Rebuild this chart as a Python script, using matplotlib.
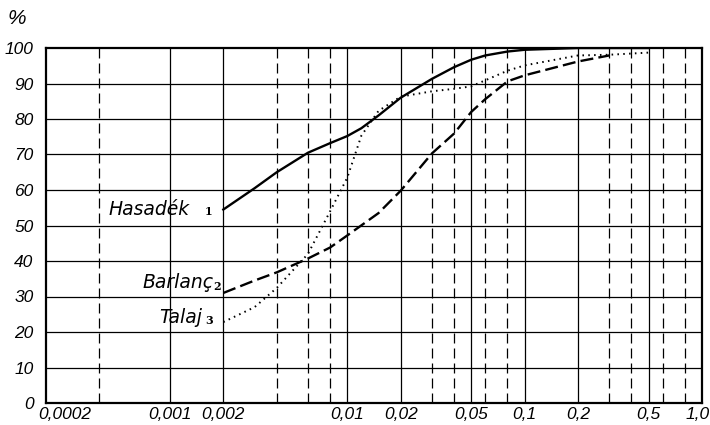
import matplotlib
matplotlib.use("Agg")
import matplotlib.pyplot as plt
import matplotlib.transforms as mtrans
from matplotlib.ticker import NullLocator, NullFormatter

# ---- data ----
x_hasadek = [0.002, 0.003, 0.004, 0.006, 0.008, 0.01, 0.012, 0.015, 0.02, 0.03,
             0.04, 0.05, 0.06, 0.08, 0.1, 0.2, 0.5]
y_hasadek = [54.5, 60.5, 65, 70.5, 73.2, 75.2, 77.4, 81, 86, 91.3,
             94.6, 96.7, 97.9, 99, 99.5, 100, 100]

x_barlanc = [0.002, 0.003, 0.004, 0.006, 0.008, 0.01, 0.015, 0.02, 0.03, 0.04,
             0.05, 0.06, 0.08, 0.1, 0.2, 0.3]
y_barlanc = [31, 34.5, 36.8, 40.7, 43.8, 47.2, 53.5, 59.8, 70.3, 75.9,
             82, 85.6, 90.6, 92.3, 96.2, 97.9]

x_talaj = [0.002, 0.003, 0.004, 0.006, 0.008, 0.01, 0.012, 0.015, 0.02, 0.03,
           0.04, 0.05, 0.06, 0.08, 0.1, 0.2, 0.3, 0.5]
y_talaj = [22.8, 27, 32.4, 42, 54, 63.5, 75.3, 82.3, 86.3, 87.8,
           88.5, 89.2, 90.9, 93.6, 95.1, 97.9, 98.1, 98.7]

series_names = ["Hasadék", "Barlanç", "Talaj"]
series_nums = ["1", "2", "3"]

x_tick_vals = [0.0002, 0.001, 0.002, 0.01, 0.02, 0.05, 0.1, 0.2, 0.5, 1.0]
x_tick_labels = ["0,0002", "0,001", "0,002", "0,01", "0,02", "0,05", "0,1", "0,2", "0,5", "1,0"]
y_tick_vals = [0, 10, 20, 30, 40, 50, 60, 70, 80, 90, 100]

solid_grid_x = [0.001, 0.002, 0.01, 0.02, 0.05, 0.1, 0.2, 0.5]
dashed_grid_x = [0.0004, 0.004, 0.006, 0.008, 0.03, 0.04, 0.06, 0.08,
                 0.3, 0.4, 0.6, 0.8]

# ---- figure ----
fig = plt.figure(figsize=(7.10, 4.25), dpi=100)
ax = fig.add_axes([46/710, 1-403/425, (702-46)/710, (403-48)/425])
ax.set_xscale("log")
ax.set_xlim(0.0002, 1.0)
ax.set_ylim(0, 100)

tick_font = dict(family="Liberation Sans", style="italic", size=12.5)

for xv in solid_grid_x:
    ax.axvline(xv, color="black", lw=0.9, zorder=1)
for xv in dashed_grid_x:
    ax.axvline(xv, color="black", lw=0.9, ls=(0, (8, 4)), zorder=1)
for yv in y_tick_vals[1:-1]:
    ax.axhline(yv, color="black", lw=0.9, zorder=1)

ax.plot(x_hasadek, y_hasadek, color="black", lw=1.7, ls="-", zorder=3)
ax.plot(x_barlanc, y_barlanc, color="black", lw=1.7, ls=(0, (5.5, 2.2)), zorder=3)
ax.plot(x_talaj, y_talaj, color="black", lw=1.4, ls=(0, (0.8, 2.2)), zorder=3)

for s in ax.spines.values():
    s.set_linewidth(1.6)
    s.set_color("black")

ax.xaxis.set_minor_locator(NullLocator())
ax.xaxis.set_minor_formatter(NullFormatter())
ax.set_xticks(x_tick_vals)
ax.set_xticklabels(x_tick_labels, fontdict=tick_font)
ax.set_yticks(y_tick_vals)
ax.set_yticklabels([str(v) for v in y_tick_vals], fontdict=tick_font)
ax.tick_params(axis="both", length=0)
ax.tick_params(axis="x", pad=3)
ax.tick_params(axis="y", pad=9)
lbls = ax.get_xticklabels()
lbls[0].set_horizontalalignment("left")
lbls[0].set_transform(lbls[0].get_transform() + mtrans.ScaledTranslation(-8/100, 0, fig.dpi_scale_trans))
lbls[-1].set_transform(lbls[-1].get_transform() + mtrans.ScaledTranslation(-4/100, 0, fig.dpi_scale_trans))

fig.text(8/710, 1-18/425, "%", fontdict=dict(family="Liberation Sans", style="italic", size=15),
         va="center", ha="left")

lab_font = dict(family="DejaVu Sans", style="italic", size=13.5)
num_font = dict(family="DejaVu Serif", weight="bold", size=8)

starts = [(x_hasadek[0], y_hasadek[0]), (x_barlanc[0], y_barlanc[0]), (x_talaj[0], y_talaj[0])]
name_off = [(-34, 0), (-10, 10), (-21, 5)]
num_off = [(-11, -2), (-2, 6), (-10, 2)]
for (sx, sy), nm, nu, no, uo in zip(starts, series_names, series_nums, name_off, num_off):
    ax.annotate(nm, (sx, sy), xytext=no, textcoords="offset pixels",
                ha="right", va="center", fontsize=lab_font["size"],
                family=lab_font["family"], style=lab_font["style"])
    ax.annotate(nu, (sx, sy), xytext=uo, textcoords="offset pixels",
                ha="right", va="center", fontsize=num_font["size"],
                family=num_font["family"], weight=num_font["weight"])

fig.savefig("out.png", dpi=100)
